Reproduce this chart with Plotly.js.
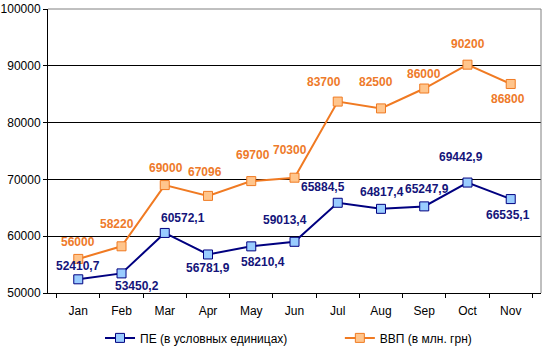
<!DOCTYPE html>
<html>
<head>
<meta charset="utf-8">
<script src="https://cdn.plot.ly/plotly-3.0.1.min.js"></script>
<style>html,body{margin:0;padding:0;background:#fff;}#chart{width:547px;height:349px;}</style>
</head>
<body>
<div id="chart"></div>
<script>
var months = ["Jan","Feb","Mar","Apr","May","Jun","Jul","Aug","Sep","Oct","Nov"];
var peValues = [52410.7, 53450.2, 60572.1, 56781.9, 58210.4, 59013.4, 65884.5, 64817.4, 65247.9, 69442.9, 66535.1];
var vvpValues = [56000, 58220, 69000, 67096, 69700, 70300, 83700, 82500, 86000, 90200, 86800];
var peName = "ПЕ (в условных единицах)";
var vvpName = "ВВП (в млн. грн)";
var yTicks = [50000, 60000, 70000, 80000, 90000, 100000];

// label placement offsets (pixels), style only
var peShift = [[0,13],[15,-13],[18,15],[0,-14],[12,-16],[-10,22],[-15,16],[1,17],[3,17],[-6,26],[-3,-16]];
var vvpShift = [[0,17],[-5,22],[1,17],[-3,24],[2,26],[-5,28],[-14,20],[-5,26],[0,15],[1,21],[-3,-15]];

var navy = "#000080", navyLabel = "#14147A", blueFill = "#99CCFF";
var orange = "#F07A22", orangeLabel = "#EE7A2A", orangeFill = "#FFC58C";
var fontFam = "Liberation Sans, Arial, sans-serif";

function fmt(v){ return String(v).replace(".", ","); }

var traces = [
  {x: months, y: peValues, name: peName, type: "scatter", mode: "lines+markers", legend: "legend",
   line: {color: navy, width: 2},
   marker: {symbol: "square", size: 9, color: blueFill, line: {color: navy, width: 1}}},
  {x: months, y: vvpValues, name: vvpName, type: "scatter", mode: "lines+markers", legend: "legend2",
   line: {color: orange, width: 2},
   marker: {symbol: "square", size: 9, color: orangeFill, line: {color: orange, width: 1}}}
];

var annotations = [];
months.forEach(function(m, i){
  annotations.push({x: m, y: peValues[i], xref: "x", yref: "y", text: fmt(peValues[i]), showarrow: false,
    xshift: peShift[i][0], yshift: peShift[i][1],
    font: {family: fontFam, size: 12, color: navyLabel, weight: "bold"}});
  annotations.push({x: m, y: vvpValues[i], xref: "x", yref: "y", text: fmt(vvpValues[i]), showarrow: false,
    xshift: vvpShift[i][0], yshift: vvpShift[i][1],
    font: {family: fontFam, size: 12, color: orangeLabel, weight: "bold"}});
});

var legendBase = {orientation: "h", xanchor: "left", y: -0.107, yanchor: "top", itemwidth: 30,
  bgcolor: "rgba(0,0,0,0)", font: {family: fontFam, size: 12, color: "#000"}};

var layout = {
  width: 547, height: 349,
  margin: {l: 48, r: 6, t: 9, b: 56, autoexpand: false},
  paper_bgcolor: "#fff", plot_bgcolor: "#fff",
  font: {family: fontFam, size: 12, color: "#000"},
  showlegend: true,
  legend: Object.assign({}, legendBase, {x: 0.1055}),
  legend2: Object.assign({}, legendBase, {x: 0.592}),
  xaxis: {type: "category", showgrid: false, showline: true, linecolor: "#000", linewidth: 1,
    ticks: "outside", tickson: "boundaries", ticklen: 4, tickcolor: "#000", tickwidth: 1,
    ticklabelstandoff: 7,
    tickfont: {size: 12}, zeroline: false, fixedrange: true},
  yaxis: {range: [50000, 100000], tickvals: yTicks, ticktext: yTicks.map(String),
    showgrid: true, gridcolor: "#000", gridwidth: 1,
    showline: true, linecolor: "#000", linewidth: 1,
    ticks: "outside", ticklen: 4, tickcolor: "#000", tickfont: {size: 12}, zeroline: false, fixedrange: true},
  shapes: [
    {type: "line", xref: "paper", yref: "paper", x0: 0, x1: 1, y0: 1, y1: 1, line: {color: "#808080", width: 1}, layer: "above"},
    {type: "line", xref: "paper", yref: "paper", x0: 1, x1: 1, y0: 0, y1: 1, line: {color: "#808080", width: 1}, layer: "above"}
  ],
  annotations: annotations
};

Plotly.newPlot("chart", traces, layout, {displayModeBar: false, staticPlot: true});
</script>
</body>
</html>
